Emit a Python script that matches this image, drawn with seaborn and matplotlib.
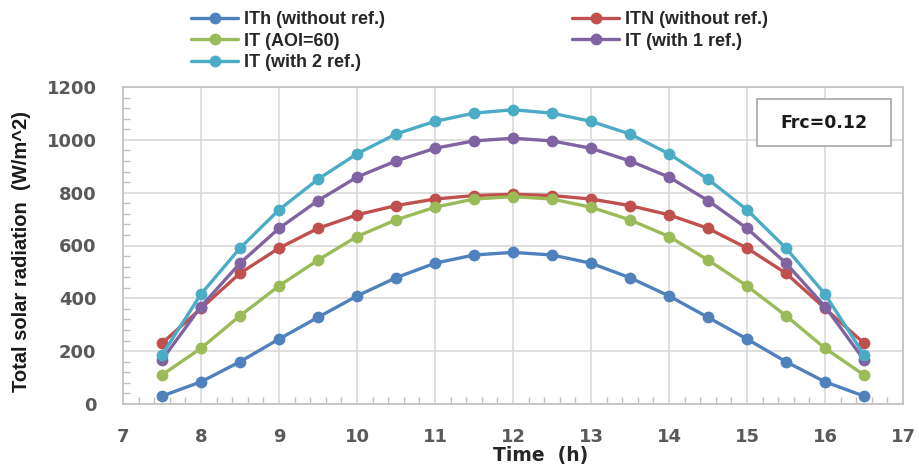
import numpy as np
import pandas as pd
import matplotlib
matplotlib.use("Agg")
import matplotlib.pyplot as plt
from matplotlib.ticker import MultipleLocator
from matplotlib.patches import Rectangle
import seaborn as sns

time_h = [7.5, 8, 8.5, 9, 9.5, 10, 10.5, 11, 11.5, 12, 12.5, 13, 13.5, 14, 14.5, 15, 15.5, 16, 16.5]
ith = [30, 84, 160, 246, 328, 409, 478, 533, 564, 574, 564, 533, 478, 409, 328, 246, 160, 84, 30]
itn = [230, 362, 495, 590, 665, 716, 751, 776, 789, 794, 789, 776, 751, 716, 665, 590, 495, 362, 230]
it_aoi60 = [110, 211, 334, 447, 545, 634, 697, 745, 776, 785, 776, 745, 697, 634, 545, 447, 334, 211, 110]
it_1ref = [167, 369, 533, 665, 770, 859, 920, 968, 996, 1006, 996, 968, 920, 859, 770, 665, 533, 369, 167]
it_2ref = [186, 416, 590, 735, 851, 947, 1022, 1070, 1101, 1114, 1101, 1070, 1022, 947, 851, 735, 590, 416, 186]

series_names = ["ITh (without ref.)", "ITN (without ref.)", "IT (AOI=60)", "IT (with 1 ref.)", "IT (with 2 ref.)"]
series_vals = [ith, itn, it_aoi60, it_1ref, it_2ref]
colors = ["#4F81BD", "#C0504D", "#9BBB59", "#8064A2", "#4BACC6"]

df = pd.concat([pd.DataFrame({"Time": time_h, "Value": v, "Series": n})
                for n, v in zip(series_names, series_vals)], ignore_index=True)

sns.set_style("white")
plt.rcParams["font.family"] = ["Liberation Sans", "DejaVu Sans"]
plt.rcParams["font.weight"] = "bold"

fig = plt.figure(figsize=(9.19, 4.66), dpi=100)
ax = fig.add_axes([123/919, 1-404/466, (903-123)/919, (404-87)/466])

sns.lineplot(data=df, x="Time", y="Value", hue="Series", hue_order=series_names,
             palette=colors, marker="o", markersize=8.5, markeredgewidth=0,
             linewidth=2.4, ax=ax, legend=False, zorder=3)

ax.set_xlim(7, 17)
ax.set_ylim(0, 1200)
ax.xaxis.set_major_locator(MultipleLocator(1))
ax.xaxis.set_minor_locator(MultipleLocator(0.2))
ax.yaxis.set_major_locator(MultipleLocator(200))
ax.yaxis.set_minor_locator(MultipleLocator(40))
ax.grid(True, which="major", color="#D9D9D9", linewidth=1.2)
for s in ax.spines.values():
    s.set_color("#BFBFBF")
    s.set_linewidth(1.2)
ax.tick_params(which="major", direction="in", length=0, labelsize=13, labelcolor="#595959")
ax.tick_params(axis="x", which="major", pad=17)
ax.tick_params(axis="y", which="major", pad=19)
ax.tick_params(which="minor", direction="in", length=5, color="#BFBFBF", width=1)
ax.tick_params(axis="x", which="minor", bottom=True)
ax.tick_params(axis="y", which="minor", left=True)
for lab in ax.get_xticklabels() + ax.get_yticklabels():
    lab.set_fontweight("bold")
    lab.set_family("DejaVu Sans")

ax.set_xlabel("Time  (h)", fontsize=13.5, fontweight="bold", color="#262626", family="DejaVu Sans")
ax.xaxis.set_label_coords((541-123)/780, (404-456)/317, transform=ax.transAxes)
ax.xaxis.label.set_va("center")
ax.set_ylabel("Total solar radiation  (W/m^2)", fontsize=14.5, fontweight="bold", color="#1a1a1a")
ax.yaxis.set_label_coords((22-123)/780, (404-251)/317, transform=ax.transAxes)
ax.yaxis.label.set_va("center")

fig.patches.append(Rectangle((757/919, 1-146/466), (891-757)/919, (146-99)/466,
                             transform=fig.transFigure, facecolor="white", edgecolor="#A6A6A6",
                             linewidth=1.2, zorder=5))
fig.text(824/919, 1-122.5/466, "Frc=0.12", ha="center", va="center", fontsize=12.5,
         fontweight="bold", color="#1a1a1a", family="DejaVu Sans", zorder=6)

handles = [plt.Line2D([], [], color=c, marker="o", markersize=8.5, markeredgewidth=0, linewidth=2.4) for c in colors]
order = [0, 2, 4, 1, 3]
fig.legend([handles[i] for i in order], [series_names[i] for i in order],
           loc="upper left", bbox_to_anchor=(175/919, 1 + 5/466), ncol=2,
           frameon=False, handlelength=2.6, handletextpad=0.3,
           columnspacing=10.4, labelspacing=0.25, prop={"weight": "bold", "size": 13})

fig.savefig("out.png", dpi=100)
